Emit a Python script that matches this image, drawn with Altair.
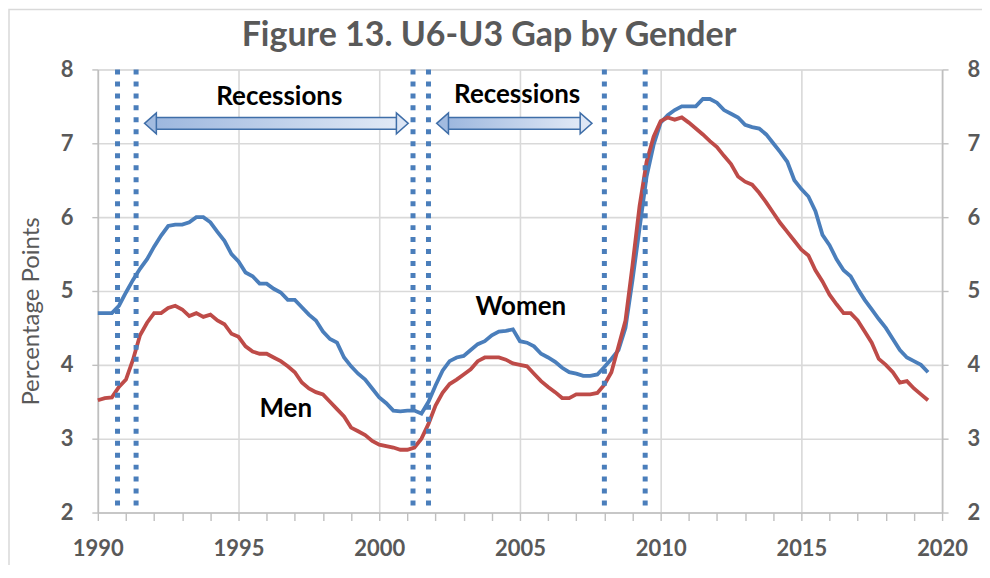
import altair as alt
import pandas as pd

# ---------------- data ----------------
# quarterly readings, first value = Q1 1990
women = [
    4.7, 4.7, 4.7, 4.8,      # 1990
    4.98, 5.15, 5.3, 5.43,   # 1991
    5.6, 5.75, 5.88, 5.9,    # 1992
    5.9, 5.93, 6.0, 6.0,     # 1993
    5.93, 5.8, 5.68, 5.5,    # 1994
    5.4, 5.25, 5.2, 5.1,     # 1995
    5.1, 5.03, 4.98, 4.88,   # 1996
    4.88, 4.78, 4.68, 4.6,   # 1997
    4.45, 4.35, 4.3, 4.1,    # 1998
    3.98, 3.88, 3.8, 3.68,   # 1999
    3.56, 3.48, 3.38, 3.37,  # 2000
    3.38, 3.38, 3.34, 3.5,   # 2001
    3.72, 3.92, 4.05, 4.1,   # 2002
    4.12, 4.2, 4.28, 4.32,   # 2003
    4.4, 4.45, 4.46, 4.48,   # 2004
    4.32, 4.3, 4.25, 4.15,   # 2005
    4.1, 4.04, 3.96, 3.9,    # 2006
    3.88, 3.85, 3.85, 3.87,  # 2007
    3.97, 4.08, 4.2, 4.5,    # 2008
    5.15, 5.85, 6.55, 6.98,  # 2009
    7.28, 7.38, 7.45, 7.5,   # 2010
    7.5, 7.5, 7.6, 7.6,      # 2011
    7.55, 7.45, 7.4, 7.35,   # 2012
    7.25, 7.22, 7.2, 7.12,   # 2013
    7.0, 6.88, 6.75, 6.5,    # 2014
    6.38, 6.28, 6.08, 5.76,  # 2015
    5.62, 5.43, 5.28, 5.2,   # 2016
    5.03, 4.88, 4.75, 4.62,  # 2017
    4.5, 4.35, 4.2, 4.1,     # 2018
    4.05, 4.0, 3.9,          # 2019
]
men = [
    3.52, 3.55, 3.56, 3.7,   # 1990
    3.8, 4.07, 4.4, 4.57,    # 1991
    4.7, 4.7, 4.77, 4.8,     # 1992
    4.75, 4.66, 4.7, 4.65,   # 1993
    4.68, 4.6, 4.55, 4.42,   # 1994
    4.38, 4.25, 4.18, 4.15,  # 1995
    4.15, 4.1, 4.05, 3.98,   # 1996
    3.9, 3.76, 3.68, 3.63,   # 1997
    3.6, 3.5, 3.4, 3.3,      # 1998
    3.15, 3.1, 3.05, 2.97,   # 1999
    2.92, 2.9, 2.88, 2.85,   # 2000
    2.85, 2.88, 3.0, 3.2,    # 2001
    3.45, 3.62, 3.74, 3.8,   # 2002
    3.87, 3.94, 4.05, 4.1,   # 2003
    4.1, 4.1, 4.07, 4.02,    # 2004
    4.0, 3.98, 3.88, 3.78,   # 2005
    3.7, 3.63, 3.55, 3.55,   # 2006
    3.6, 3.6, 3.6, 3.62,     # 2007
    3.73, 3.9, 4.25, 4.6,    # 2008
    5.35, 6.15, 6.75, 7.09,  # 2009
    7.3, 7.35, 7.32, 7.35,   # 2010
    7.28, 7.2, 7.12, 7.03,   # 2011
    6.95, 6.83, 6.72, 6.55,  # 2012
    6.48, 6.44, 6.33, 6.2,   # 2013
    6.06, 5.92, 5.8, 5.68,   # 2014
    5.56, 5.48, 5.28, 5.13,  # 2015
    4.95, 4.82, 4.7, 4.7,    # 2016
    4.6, 4.45, 4.3, 4.08,    # 2017
    4.0, 3.9, 3.76, 3.78,    # 2018
    3.68, 3.6, 3.52,         # 2019
]
quarters = [1990 + 0.25 * i for i in range(len(women))]

recession_lines = [1990.7, 1991.36, 2001.2, 2001.75, 2008.0, 2009.45]

arrow_starts = [1991.66, 2002.04]
arrow_ends = [2001.03, 2007.56]
arrow_level = [7.27, 7.27]

label_text = ["Recessions", "Recessions", "Women", "Men"]
label_x = [1996.45, 2004.9, 2005.03, 1996.68]
label_y = [7.63, 7.65, 4.78, 3.40]

title_text = ["Figure 13. U6-U3 Gap by Gender"]

y_ticks = [2, 2.5, 3, 3.5, 4, 4.5, 5, 5.5, 6, 6.5, 7, 7.5, 8]
x_ticks = list(range(1990, 2021))

# ---------------- tables ----------------
lines_df = pd.concat([
    pd.DataFrame({"x": quarters, "y": women, "series": "Women"}),
    pd.DataFrame({"x": quarters, "y": men, "series": "Men"}),
])
rec_df = pd.DataFrame({"x": recession_lines, "y": [8] * len(recession_lines),
                       "y2": [2] * len(recession_lines)})

HEAD_LEN = 0.38  # years covered by an arrow head
HALF_SHAFT = 0.08
shaft_df = pd.DataFrame({
    "x": [s + HEAD_LEN for s in arrow_starts],
    "x2": [e - HEAD_LEN for e in arrow_ends],
    "y": [l + HALF_SHAFT for l in arrow_level],
    "y2": [l - HALF_SHAFT for l in arrow_level],
})
head_df = pd.DataFrame({
    "x": arrow_starts + arrow_ends,
    "y": arrow_level + arrow_level,
    "side": ["L", "L", "R", "R"],
})
text_df = pd.DataFrame({"x": label_x, "y": label_y, "t": label_text})
title_df = pd.DataFrame({"t": title_text})

# ---------------- styling ----------------
FONT = "Lato"
GRAY = "#595959"
AXCOL = "#bfbfbf"
GRID = "#d9d9d9"
BLUE = "#4a7ebb"
RED = "#be4b48"

xscale = alt.Scale(domain=[1990, 2020], nice=False, zero=False)
yscale = alt.Scale(domain=[2, 8], nice=False, zero=False)

xaxis = alt.Axis(
    values=x_ticks, format="d", title=None,
    labelExpr="datum.value % 5 === 0 ? datum.label : ''",
    labelOverlap=False, labelFlush=False,
    labelFont=FONT, labelFontSize=22, labelFontWeight="bold", labelColor=GRAY,
    labelPadding=18,
    grid=True, gridColor=GRID, gridWidth=1.6,
    gridOpacity={"condition": {"test": "datum.value % 5 !== 0", "value": 0}, "value": 1},
    domainColor=AXCOL, domainWidth=1.6,
    tickColor=AXCOL, tickWidth=1.4, tickSize=8,
)
yaxis_left = alt.Axis(
    values=y_ticks, title="Percentage Points", orient="left", format="d",
    labelExpr="datum.value % 1 === 0 ? datum.label : ''",
    labelOverlap=False, labelFlush=False,
    labelFont=FONT, labelFontSize=22, labelFontWeight="bold", labelColor=GRAY,
    labelPadding=19,
    titleFont=FONT, titleFontSize=24, titleFontWeight="normal", titleColor=GRAY,
    titleX=-66, titleY=242, titleAngle=270, titleAlign="center", titleBaseline="middle",
    grid=True, gridColor=GRID, gridWidth=1.6,
    gridOpacity={"condition": {"test": "datum.value % 1 !== 0", "value": 0}, "value": 1},
    domainColor=AXCOL, domainWidth=1.6,
    tickColor=AXCOL, tickWidth=1.4, tickSize=6,
)
yaxis_right = alt.Axis(
    values=y_ticks, title=None, orient="right", format="d",
    labelExpr="datum.value % 1 === 0 ? datum.label : ''",
    labelOverlap=False, labelFlush=False,
    labelFont=FONT, labelFontSize=22, labelFontWeight="bold", labelColor=GRAY,
    labelPadding=19, grid=False,
    domainColor=AXCOL, domainWidth=1.6,
    tickColor=AXCOL, tickWidth=1.4, tickSize=6,
)

X = alt.X("x:Q", scale=xscale, axis=xaxis)

# outer chart frame and title (decorations outside the plot area)
frame = alt.Chart(title_df).mark_rect(
    filled=False, stroke="#d9d9d9", strokeWidth=1.5, clip=False
).encode(x=alt.value(-89), x2=alt.value(1000), y=alt.value(-60), y2=alt.value(600))

title = alt.Chart(title_df).mark_text(
    font=FONT, fontSize=34, fontWeight="bold", color=GRAY,
    align="center", baseline="alphabetic", clip=False,
).encode(x=alt.value(392), y=alt.value(-23), text="t:N")

lines = alt.Chart(lines_df).mark_line(strokeWidth=3.8, interpolate="linear").encode(
    x=X,
    y=alt.Y("y:Q", scale=yscale, axis=yaxis_left),
    color=alt.Color("series:N", scale=alt.Scale(domain=["Women", "Men"], range=[BLUE, RED]),
                    legend=None),
    detail="series:N",
)

rules = alt.Chart(rec_df).mark_rule(
    color=BLUE, strokeWidth=5, strokeDash=[5, 7], strokeCap="butt"
).encode(
    x=X,
    y=alt.Y("y:Q", scale=yscale, axis=yaxis_right),
    y2="y2:Q",
)

shaft = alt.Chart(shaft_df).mark_rect(
    stroke="#3f6ea8", strokeWidth=1.5,
    fill=alt.Gradient(gradient="linear", x1=0, x2=1, y1=0, y2=0,
                      stops=[alt.GradientStop(color="#9db7de", offset=0),
                             alt.GradientStop(color="#e1e9f6", offset=1)]),
).encode(
    x=X, x2="x2:Q",
    y=alt.Y("y:Q", scale=yscale, axis=None), y2="y2:Q",
)

head_left = alt.Chart(head_df).transform_filter("datum.side === 'L'").mark_point(
    shape="M0,0L1.13,-1L1.13,1Z", size=440, filled=True, fill="#a2bbe0",
    stroke="#3f6ea8", strokeWidth=1.5, opacity=1,
).encode(x=X, y=alt.Y("y:Q", scale=yscale, axis=None))

head_right = alt.Chart(head_df).transform_filter("datum.side === 'R'").mark_point(
    shape="M0,0L-1.13,-1L-1.13,1Z", size=440, filled=True, fill="#dde6f5",
    stroke="#3f6ea8", strokeWidth=1.5, opacity=1,
).encode(x=X, y=alt.Y("y:Q", scale=yscale, axis=None))

texts = alt.Chart(text_df).mark_text(
    font=FONT, fontSize=26, fontWeight="bold", color="black",
    align="center", baseline="middle",
).encode(x=X, y=alt.Y("y:Q", scale=yscale, axis=None), text="t:N")

chart = alt.layer(
    lines, rules, shaft, head_left, head_right, texts, title, frame
).resolve_axis(y="independent").properties(
    width=846, height=444,
    padding={"left": 90, "top": 61, "right": 40, "bottom": 52},
    autosize=alt.AutoSizeParams(type="none"),
).configure_view(stroke=None).configure(background="white")

chart.save("out.html", embed_options={"renderer": "svg", "actions": False})
